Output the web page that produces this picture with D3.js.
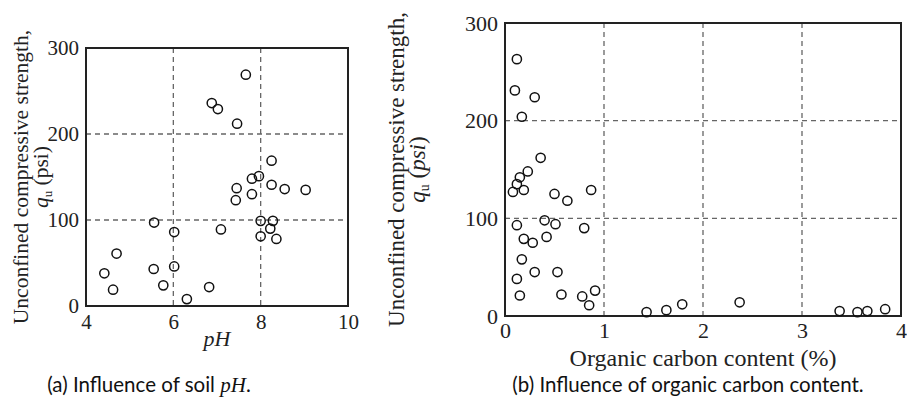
<!DOCTYPE html>
<html>
<head>
<meta charset="utf-8">
<script src="https://cdn.jsdelivr.net/npm/d3@7"></script>
<style>
  body { margin: 0; background: #fff; }
  .tick text { font-family: "Liberation Serif", "Times New Roman", serif; fill: #222; }
  .grid line { stroke: #666; stroke-width: 1.3; stroke-dasharray: 5,4; }
  .caption { font-family: Lato, "Open Sans", sans-serif; font-size: 20.5px; fill: #111; }
</style>
</head>
<body>
<div id="chart"></div>
<script>
// panel (a): pH vs q_u
var phValues = [7.66, 6.88, 7.02, 7.46, 8.25, 7.80, 7.96, 7.45, 8.25, 8.55, 9.03, 7.80, 7.43,
  5.56, 6.02, 7.09, 8.00, 8.28, 8.22, 8.00, 8.36, 4.70, 4.42, 4.62, 5.55, 6.02, 5.77, 6.31, 6.82];
var phStrength = [269, 236, 229, 212, 169, 148, 151, 137, 141, 136, 135, 130, 123,
  97, 86, 89, 99, 99, 90, 81, 78, 61, 38, 19, 43, 46, 24, 8, 22];

// panel (b): organic carbon vs q_u
var ocValues = [0.12, 0.10, 0.30, 0.17, 0.36, 0.23, 0.15, 0.12, 0.08, 0.19, 0.87, 0.50, 0.63,
  0.12, 0.40, 0.51, 0.80, 0.19, 0.28, 0.42, 0.17, 0.12, 0.30, 0.53, 0.15, 0.57, 0.78, 0.85, 0.91,
  1.43, 1.63, 1.79, 2.37, 3.38, 3.56, 3.66, 3.84];
var ocStrength = [263, 231, 224, 204, 162, 148, 142, 135, 127, 129, 129, 125, 118,
  93, 98, 94, 90, 79, 75, 81, 58, 38, 45, 45, 21, 22, 20, 11, 26,
  4, 6, 12, 14, 5, 4, 5, 7];

var phTicks = [4, 6, 8, 10];
var ocTicks = [0, 1, 2, 3, 4];
var qTicks = [0, 100, 200, 300];

var svgWidth = 907;
var svgHeight = 411;

var svg = d3.select('#chart')
  .append('svg')
  .attr('width', svgWidth)
  .attr('height', svgHeight);

var serif = '"Liberation Serif", "Times New Roman", serif';

// draws one scatter panel
function drawPanel(opts) {
  var x = d3.scaleLinear().domain(opts.xDomain).range([opts.left, opts.right]);
  var y = d3.scaleLinear().domain([0, 300]).range([opts.bottom, opts.top]);

  var g = svg.append('g');

  // dashed grid
  var grid = g.append('g').attr('class', 'grid');
  grid.selectAll('.vx')
    .data(opts.gridX)
    .enter()
    .append('line')
    .attr('x1', (d) => x(d)).attr('x2', (d) => x(d))
    .attr('y1', opts.top).attr('y2', opts.bottom);
  grid.selectAll('.hy')
    .data([100, 200])
    .enter()
    .append('line')
    .attr('x1', opts.left).attr('x2', opts.right)
    .attr('y1', (d) => y(d)).attr('y2', (d) => y(d));

  // axes (labels only, frame drawn below)
  var xAxis = g.append('g')
    .attr('transform', `translate(0, ${opts.bottom})`)
    .call(d3.axisBottom(x).tickValues(opts.xTicks).tickFormat(d3.format('d'))
      .tickSize(0).tickPadding(opts.tickPad));
  var yAxis = g.append('g')
    .attr('transform', `translate(${opts.left}, 0)`)
    .call(d3.axisLeft(y).tickValues(qTicks).tickFormat(d3.format('d'))
      .tickSize(0).tickPadding(7));
  xAxis.select('.domain').remove();
  yAxis.select('.domain').remove();
  g.selectAll('.tick text').style('font-size', opts.tickFont + 'px');

  g.append('rect')
    .attr('x', opts.left)
    .attr('y', opts.top)
    .attr('width', opts.right - opts.left)
    .attr('height', opts.bottom - opts.top)
    .attr('fill', 'none')
    .attr('stroke', '#222')
    .attr('stroke-width', 2);

  // points
  g.selectAll('circle')
    .data(opts.xs)
    .enter()
    .append('circle')
    .attr('cx', (d) => x(d))
    .attr('cy', (d, i) => y(opts.ys[i]))
    .attr('r', 4.6)
    .attr('fill', 'none')
    .attr('stroke', '#111')
    .attr('stroke-width', 1.5);

  // y-axis title, two lines
  var midY = (opts.top + opts.bottom) / 2;
  var yt = g.append('text')
    .attr('transform', `translate(${opts.yLabelX}, ${midY}) rotate(-90)`)
    .attr('text-anchor', 'middle')
    .style('font-family', serif)
    .style('font-size', opts.labelFont + 'px')
    .attr('fill', '#222');
  yt.append('tspan').attr('x', 0).attr('y', 0).text('Unconfined compressive strength,');
  var l2 = g.append('text')
    .attr('transform', `translate(${opts.yLabelX + opts.lineGap}, ${midY}) rotate(-90)`)
    .attr('text-anchor', 'middle')
    .style('font-family', serif)
    .style('font-size', opts.labelFont + 'px')
    .attr('fill', '#222');
  l2.append('tspan').style('font-style', 'italic').text('q');
  l2.append('tspan').attr('dy', 4).style('font-size', (opts.labelFont * 0.6) + 'px').text('u');
  l2.append('tspan').attr('dy', -4).text(' (');
  l2.append('tspan').style('font-style', opts.psiItalic ? 'italic' : 'normal').text('psi');
  l2.append('tspan').text(')');

  return g;
}

drawPanel({
  left: 86, right: 348, top: 48, bottom: 306,
  xDomain: [4, 10], xTicks: phTicks, gridX: [6, 8],
  xs: phValues, ys: phStrength,
  tickFont: 21, tickPad: 8, labelFont: 21.5,
  yLabelX: 28, lineGap: 20, psiItalic: false
});

drawPanel({
  left: 505, right: 901, top: 23, bottom: 316,
  xDomain: [0, 4], xTicks: ocTicks, gridX: [1, 2, 3],
  xs: ocValues, ys: ocStrength,
  tickFont: 22, tickPad: 6, labelFont: 23,
  yLabelX: 404, lineGap: 21, psiItalic: true
});

// x-axis titles
svg.append('text')
  .attr('x', 217).attr('y', 346)
  .attr('text-anchor', 'middle')
  .style('font-family', serif).style('font-style', 'italic').style('font-size', '22px')
  .attr('fill', '#222')
  .text('pH');

svg.append('text')
  .attr('x', 703).attr('y', 366)
  .attr('text-anchor', 'middle')
  .style('font-family', serif).style('font-size', '24px')
  .attr('fill', '#222')
  .text('Organic carbon content (%)');

// captions
var capA = svg.append('text')
  .attr('class', 'caption')
  .attr('x', 149).attr('y', 392)
  .attr('text-anchor', 'middle');
capA.append('tspan').text('(a) Influence of soil ');
capA.append('tspan').style('font-family', serif).style('font-style', 'italic').style('font-size', '21px').text('pH');
capA.append('tspan').text('.');

svg.append('text')
  .attr('class', 'caption')
  .attr('x', 688).attr('y', 392)
  .attr('text-anchor', 'middle')
  .text('(b) Influence of organic carbon content.');
</script>
</body>
</html>
